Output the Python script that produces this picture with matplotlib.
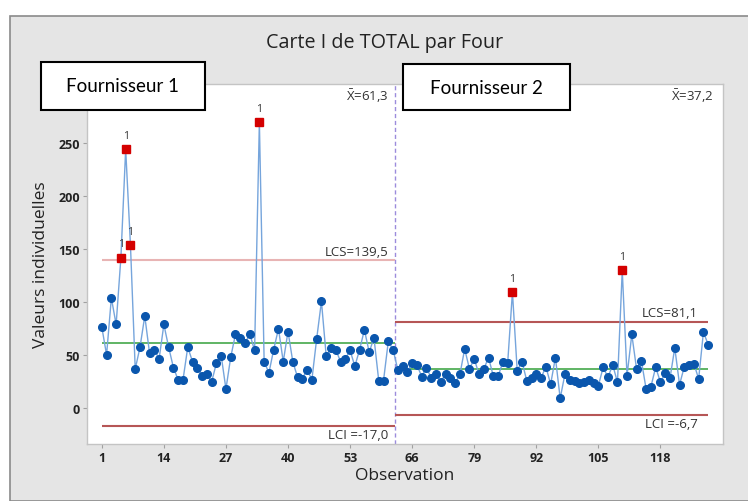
import numpy as np
import matplotlib
matplotlib.use('Agg')
import matplotlib.pyplot as plt
from matplotlib.patches import Rectangle

# individual values, supplier 1 (obs 1-62) and supplier 2 (obs 63-128)
four1 = [76.6, 50.4, 104, 79, 142, 244, 154, 37, 57.6, 87,
         52, 55.4, 46.6, 79, 57.6, 38.4, 26.7, 26.7, 57.6, 44,
         38.4, 30.8, 32.4, 24.9, 42.5, 49.7, 18.2, 48.2, 69.9, 66.2,
         61.4, 70, 54.5, 269.7, 44, 33.4, 55.4, 75, 44, 72.4,
         44, 29.3, 27.7, 36.5, 27, 65.5, 100.8, 49.1, 56.7, 55.4,
         44, 46.6, 54.5, 39.7, 55.4, 74, 52.9, 66.4, 26.1, 26.1,
         63, 55.4]
four2 = [36.2, 40.3, 34.6, 42.5, 40.9, 29.9, 38.4, 28.4, 32.4, 25.1,
         32.4, 28.9, 23.6, 32, 56, 37.1, 46.6, 32.1, 37.1, 47.8,
         30.2, 30.2, 43.8, 42.5, 109.6, 35.5, 44, 26.1, 28.6, 32.4,
         28.6, 39.3, 22.7, 47.8, 9.4, 32.4, 27, 26.1, 23.9, 24.6,
         27, 23.9, 21.4, 38.7, 29.3, 40.9, 24.6, 130, 30.8, 69.6,
         37.1, 45, 18.2, 20.4, 38.7, 24.6, 33, 28.4, 57, 22.3,
         39.3, 40.9, 42.2, 27.7, 71.8, 60.1]

moyennes = [61.3, 37.2]
lcs = [139.5, 81.1]
lci = [-17.0, -6.7]
xbar_txt = [r'$\bar{\mathrm{X}}$=61,3', r'$\bar{\mathrm{X}}$=37,2']
lcs_txt = ['LCS=139,5', 'LCS=81,1']
lci_txt = ['LCI =-17,0', 'LCI =-6,7']
fournisseurs = ['Fournisseur 1', 'Fournisseur 2']
xticks = [1, 14, 27, 40, 53, 66, 79, 92, 105, 118]
yticks = [0, 50, 100, 150, 200, 250]

plt.rcParams['mathtext.fontset'] = 'custom'
plt.rcParams['mathtext.rm'] = 'Open Sans'

n1 = len(four1)
y = np.array(four1 + four2)
x = np.arange(1, len(y) + 1)
coupure = n1 + 0.5
bornes = [(1, coupure), (coupure, len(y))]

# points out of limits, per stage
hors = np.zeros(len(y), dtype=bool)
hors[:n1] = np.array(four1) > lcs[0]
hors[n1:] = np.array(four2) > lcs[1]

fig = plt.figure(figsize=(7.48, 5.02), dpi=100)
fig.patches.append(Rectangle((10/748, 0), 1, 1 - 17/502, transform=fig.transFigure,
                             facecolor='#e5e5e5', edgecolor='#8a8a8a', lw=1.2, zorder=-5))

ax = fig.add_axes([87/748, 57/502, 636/748, 360/502])
ax.set_facecolor('white')
for s in ax.spines.values():
    s.set_color('#c4c4c4')
    s.set_linewidth(1)

ax.plot(x, y, color='#76a5dc', lw=1, zorder=3)
ax.plot(x[~hors], y[~hors], 'o', color='#0a56ad', ms=5.5, zorder=4)
ax.plot(x[hors], y[hors], 's', color='#d40000', ms=5.5, zorder=5)
for xi, yi in zip(x[hors], y[hors]):
    ax.annotate('1', (xi, yi), xytext=(0, 6), textcoords='offset points',
                ha='center', va='bottom', fontsize=7.5, color='#333333', family='Open Sans')

couleurs_lcs = ['#e8b4b4', '#b65656']
for k, (a, b) in enumerate(bornes):
    ax.hlines(moyennes[k], a, b, color='#44a84a', lw=1.2, zorder=2)
    ax.hlines(lcs[k], a, b, color=couleurs_lcs[k], lw=1.5, zorder=2)
    ax.hlines(lci[k], a, b, color='#b65656', lw=1.5, zorder=2)
    xr = b - 1.5 if k == 0 else b - 2.2
    ax.annotate(lcs_txt[k], (xr, lcs[k]), xytext=(0, 2), textcoords='offset points',
                ha='right', va='bottom', fontsize=9.5, color='#333333', family='Open Sans')
    ax.annotate(lci_txt[k], (xr, lci[k]), xytext=(0, -1), textcoords='offset points',
                ha='right', va='top', fontsize=9.5, color='#333333', family='Open Sans')
    ax.text(xr if k == 0 else b + 1.2, 295, xbar_txt[k], ha='right', va='center',
            fontsize=9.5, color='#333333', family='Open Sans')

ax.axvline(coupure, color='#9c8cdc', lw=1, ls=(0, (3, 2)), zorder=1)

ax.set_xlim(-2.1, 131.1)
ax.set_ylim(-33.6, 305.6)
ax.set_xticks(xticks)
ax.set_yticks(yticks)
ax.tick_params(length=3, width=0.8, color='#a0a0a0', labelsize=9, pad=2)
for lab in ax.get_xticklabels() + ax.get_yticklabels():
    lab.set_fontweight('bold')
    lab.set_family('Open Sans')
    lab.set_color('#222222')

ax.set_xlabel('Observation', fontsize=12.5, family='Open Sans', color='#222222', labelpad=2)
ax.set_ylabel('Valeurs individuelles', fontsize=12.5, family='Open Sans', color='#222222', labelpad=7)
fig.text(385/748, 1 - 43/502, 'Carte I de TOTAL par Four', ha='center', va='center',
         fontsize=14.2, family='Open Sans', color='#222222')

# supplier boxes on top of the plot frame
boites = [(40.5, 62.5, 164, 48), (403, 65, 167, 46)]
for (bx, by, bw, bh), nom in zip(boites, fournisseurs):
    fig.patches.append(Rectangle((bx/748, 1 - (by + bh)/502), bw/748, bh/502,
                                 transform=fig.transFigure, facecolor='white',
                                 edgecolor='black', lw=1.5, zorder=10))
    fig.text((bx + bw/2)/748, 1 - (by + bh/2)/502, nom, ha='center', va='center',
             fontsize=13.5, family='Lato', color='black', zorder=11)

fig.savefig('out.png', dpi=100)
